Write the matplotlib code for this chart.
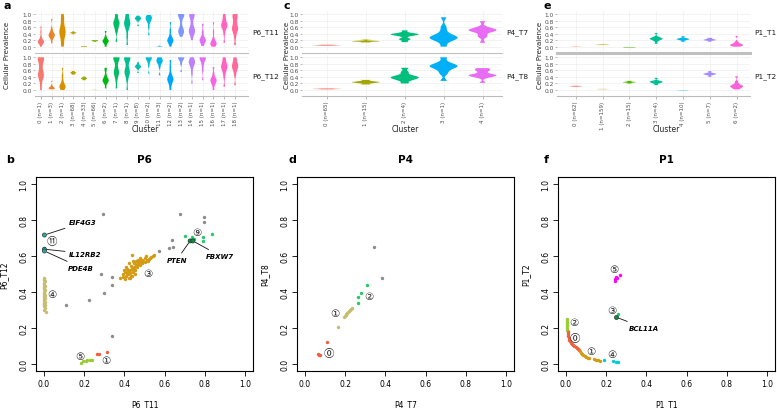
import matplotlib
matplotlib.use("Agg")
import matplotlib.pyplot as plt
from matplotlib.lines import Line2D
import numpy as np

W, H = 777, 410

# ---------------- violin data (cellular prevalence samples per cluster) ----------------
a_labels = ["0 (n=1)", "1 (n=3)", "2 (n=1)", "3 (n=68)", "4 (n=33)", "5 (n=66)", "6 (n=2)",
            "7 (n=1)", "8 (n=1)", "9 (n=8)", "10 (n=2)", "11 (n=3)", "12 (n=2)", "13 (n=2)",
            "14 (n=1)", "15 (n=1)", "16 (n=1)", "17 (n=1)", "18 (n=1)"]
a_T11 = [
    [0.0, 0.08, 0.12, 0.14, 0.15, 0.16, 0.18, 0.22, 0.3, 0.45, 0.62],
    [0.1, 0.25, 0.3, 0.33, 0.35, 0.37, 0.4, 0.45, 0.55, 0.85],
    [0.0, 0.1, 0.2, 0.3, 0.35, 0.4, 0.45, 0.5, 0.55, 0.6, 0.7, 0.8, 0.9, 1.0],
    [0.38, 0.41, 0.42, 0.43, 0.44, 0.47],
    [0.0, 0.005, 0.01, 0.015, 0.02],
    [0.15, 0.17, 0.18, 0.19, 0.2],
    [0.0, 0.1, 0.14, 0.17, 0.19, 0.22, 0.3, 0.48],
    [0.15, 0.45, 0.55, 0.62, 0.68, 0.72, 0.75, 0.8, 0.9, 1.0],
    [0.05, 0.3, 0.5, 0.6, 0.66, 0.7, 0.74, 0.78, 0.85, 0.95, 1.0],
    [0.63, 0.8, 0.84, 0.86, 0.88, 0.9, 0.95],
    [0.35, 0.6, 0.75, 0.8, 0.84, 0.87, 0.9, 0.93, 0.97],
    [0.0, 0.0, 0.005, 0.01, 0.05],
    [0.0, 0.1, 0.15, 0.18, 0.2, 0.22, 0.26, 0.35, 0.5, 0.75],
    [0.3, 0.4, 0.44, 0.47, 0.5, 0.55, 0.65, 0.8, 0.9, 0.95, 0.98, 1.0, 1.0],
    [0.2, 0.35, 0.42, 0.46, 0.5, 0.55, 0.62, 0.75, 0.88, 0.95, 1.0, 1.0],
    [0.02, 0.12, 0.17, 0.2, 0.23, 0.3, 0.45, 0.7],
    [0.0, 0.05, 0.08, 0.1, 0.12, 0.15, 0.25, 0.45, 0.75],
    [0.12, 0.4, 0.55, 0.6, 0.64, 0.68, 0.72, 0.8, 0.9, 1.0],
    [0.05, 0.3, 0.45, 0.52, 0.56, 0.6, 0.7, 0.8, 0.9, 0.97, 1.0],
]
a_T12 = [
    [0.0, 0.2, 0.35, 0.4, 0.45, 0.5, 0.55, 0.65, 0.75, 0.85, 0.92, 0.97, 1.0, 1.0],
    [0.02, 0.04, 0.05, 0.06, 0.07, 0.09, 0.14, 0.28],
    [0.0, 0.05, 0.08, 0.1, 0.12, 0.15, 0.2, 0.3, 0.45, 0.68],
    [0.47, 0.5, 0.52, 0.53, 0.55, 0.58],
    [0.3, 0.33, 0.35, 0.36, 0.38, 0.41],
    [0.0, 0.003, 0.006],
    [0.05, 0.2, 0.25, 0.28, 0.3, 0.33, 0.37, 0.45, 0.6, 0.68],
    [0.05, 0.3, 0.45, 0.5, 0.55, 0.6, 0.7, 0.85, 0.95, 0.98, 1.0, 1.0],
    [0.0, 0.3, 0.45, 0.52, 0.56, 0.6, 0.7, 0.85, 0.94, 0.98, 1.0, 1.0],
    [0.52, 0.65, 0.69, 0.71, 0.72, 0.74, 0.78, 0.85],
    [0.5, 0.75, 0.85, 0.9, 0.94, 0.97, 0.99, 1.0, 1.0],
    [0.45, 0.7, 0.8, 0.85, 0.87, 0.9, 0.93, 0.97, 1.0],
    [0.0, 0.15, 0.25, 0.3, 0.33, 0.36, 0.4, 0.5, 0.7, 0.92],
    [0.55, 0.8, 0.9, 0.95, 0.98, 1.0, 1.0],
    [0.2, 0.5, 0.65, 0.75, 0.8, 0.83, 0.86, 0.9, 0.95, 1.0],
    [0.3, 0.6, 0.75, 0.85, 0.92, 0.96, 0.99, 1.0, 1.0],
    [0.0, 0.15, 0.22, 0.27, 0.3, 0.33, 0.38, 0.5, 0.7],
    [0.1, 0.4, 0.55, 0.63, 0.68, 0.72, 0.76, 0.82, 0.92, 1.0],
    [0.15, 0.45, 0.58, 0.65, 0.7, 0.74, 0.78, 0.84, 0.93, 1.0],
]

c_labels = ["0 (n=65)", "1 (n=15)", "2 (n=4)", "3 (n=1)", "4 (n=1)"]
c_T7 = [
    [0.03, 0.04, 0.045, 0.05, 0.06],
    [0.13, 0.155, 0.165, 0.17, 0.18, 0.22],
    [0.14, 0.22, 0.24, 0.33, 0.36, 0.37, 0.38, 0.39, 0.41, 0.5],
    [0.0, 0.15, 0.22, 0.25, 0.27, 0.29, 0.31, 0.35, 0.45, 0.6, 0.9],
    [0.12, 0.3, 0.35, 0.45, 0.48, 0.5, 0.51, 0.52, 0.55, 0.6, 0.78],
]
c_T8 = [
    [0.02, 0.03, 0.035, 0.04, 0.05],
    [0.17, 0.21, 0.23, 0.24, 0.25, 0.27, 0.31],
    [0.2, 0.3, 0.34, 0.37, 0.39, 0.41, 0.45, 0.55, 0.68],
    [0.28, 0.5, 0.6, 0.67, 0.71, 0.73, 0.75, 0.78, 0.85, 1.0],
    [0.22, 0.38, 0.42, 0.44, 0.45, 0.46, 0.48, 0.55, 0.61, 0.63, 0.67],
]

e_labels = ["0 (n=62)", "1 (n=159)", "2 (n=15)", "3 (n=4)", "4 (n=10)", "5 (n=7)", "6 (n=2)"]
e_T1 = [
    [0.005, 0.01, 0.012, 0.015],
    [0.05, 0.06, 0.065, 0.07],
    [-0.025, -0.02, -0.015, -0.01],
    [0.09, 0.17, 0.21, 0.23, 0.24, 0.25, 0.27, 0.3, 0.42],
    [0.15, 0.2, 0.22, 0.23, 0.24, 0.26, 0.32],
    [0.15, 0.19, 0.2, 0.21, 0.22, 0.24, 0.27],
    [0.0, 0.02, 0.04, 0.05, 0.06, 0.07, 0.1, 0.15, 0.33],
]
e_T2 = [
    [0.1, 0.11, 0.115, 0.12, 0.13],
    [0.025, 0.03, 0.035],
    [0.2, 0.23, 0.24, 0.25, 0.28],
    [0.15, 0.21, 0.23, 0.25, 0.26, 0.28, 0.37],
    [-0.01, -0.005, 0.0],
    [0.4, 0.46, 0.48, 0.49, 0.5, 0.52, 0.58],
    [0.02, 0.06, 0.09, 0.11, 0.12, 0.14, 0.17, 0.25, 0.42],
]

# ---------------- scatter data ----------------
# P6
b_grey_x = [0.295, 0.677, 0.796, 0.796, 0.638, 0.62, 0.64, 0.573, 0.284, 0.34, 0.336, 0.30, 0.224, 0.108, 0.34]
b_grey_y = [0.834, 0.836, 0.815, 0.787, 0.69, 0.647, 0.649, 0.628, 0.50, 0.486, 0.438, 0.395, 0.354, 0.326, 0.155]
b_c1_x = [0.262, 0.274, 0.312]
b_c1_y = [0.052, 0.057, 0.067]
b_c5_x = [0.184, 0.195, 0.207, 0.216, 0.228, 0.237]
b_c5_y = [0.004, 0.013, 0.015, 0.024, 0.022, 0.019]
b_c4_x = [0.0, 0.002, 0.0, 0.003, 0.0, 0.001, 0.004, 0.0, 0.002, 0.0, 0.003, 0.001, 0.0, 0.002, 0.004,
          0.0, 0.001, 0.003, 0.0, 0.002, 0.0, 0.004, 0.001, 0.0, 0.003, 0.002, 0.0, 0.005, 0.001, 0.01]
b_c4_y = [0.48, 0.47, 0.465, 0.46, 0.45, 0.44, 0.435, 0.43, 0.42, 0.415, 0.41, 0.40, 0.395, 0.39, 0.385,
          0.38, 0.37, 0.365, 0.36, 0.355, 0.35, 0.345, 0.34, 0.335, 0.33, 0.325, 0.32, 0.31, 0.30, 0.289]
b_c3_x = [0.378, 0.395, 0.40, 0.405, 0.41, 0.415, 0.42, 0.42, 0.425, 0.43, 0.43, 0.435, 0.44, 0.44, 0.44,
          0.445, 0.45, 0.45, 0.455, 0.46, 0.46, 0.465, 0.47, 0.47, 0.475, 0.48, 0.48, 0.485, 0.49, 0.49,
          0.495, 0.50, 0.50, 0.505, 0.51, 0.515, 0.52, 0.525, 0.53, 0.54, 0.548, 0.405, 0.395, 0.41, 0.425,
          0.435, 0.455, 0.465, 0.445, 0.415, 0.43, 0.45]
b_c3_y = [0.476, 0.50, 0.52, 0.51, 0.49, 0.53, 0.50, 0.515, 0.48, 0.52, 0.505, 0.545, 0.49, 0.53, 0.605,
          0.51, 0.54, 0.56, 0.525, 0.55, 0.57, 0.54, 0.555, 0.58, 0.565, 0.55, 0.59, 0.57, 0.56, 0.58,
          0.575, 0.565, 0.59, 0.60, 0.58, 0.57, 0.585, 0.59, 0.595, 0.60, 0.605, 0.47, 0.485, 0.54, 0.56,
          0.49, 0.50, 0.565, 0.575, 0.505, 0.475, 0.53]
b_c9_x = [0.70, 0.735, 0.745, 0.793, 0.79, 0.836]
b_c9_y = [0.713, 0.705, 0.695, 0.705, 0.685, 0.72]
b_c11_x = [0.002]
b_c11_y = [0.647]
b_gene_names = ["EIF4G3", "IL12RB2", "PDE4B", "PTEN", "FBXW7"]
b_gene_x = [0.002, 0.002, 0.002, 0.727, 0.741]
b_gene_y = [0.717, 0.638, 0.628, 0.684, 0.684]
b_gene_col = ["#2aa5a8", "#2aa5a8", "#2aa5a8", "#128a45", "#128a45"]
b_gene_tx = [0.125, 0.125, 0.12, 0.66, 0.877]
b_gene_ty = [0.787, 0.614, 0.535, 0.578, 0.60]
b_gene_ha = ["left", "left", "left", "center", "center"]
b_tag_text = ["\u2460", "\u2462", "\u2463", "\u2464", "\u2468", "\u246a"]
b_tag_x = [0.308, 0.519, 0.038, 0.179, 0.759, 0.038]
b_tag_y = [0.019, 0.507, 0.386, 0.043, 0.735, 0.684]

# P4
d_grey_x = [0.343, 0.384]
d_grey_y = [0.653, 0.476]
d_c0_x = [0.111, 0.064, 0.071, 0.074]
d_c0_y = [0.119, 0.054, 0.05, 0.047]
d_c1_x = [0.164, 0.194, 0.198, 0.202, 0.206, 0.21, 0.214, 0.218, 0.222, 0.228, 0.233]
d_c1_y = [0.203, 0.26, 0.266, 0.272, 0.278, 0.284, 0.289, 0.294, 0.30, 0.306, 0.312]
d_c2_x = [0.306, 0.277, 0.265, 0.264]
d_c2_y = [0.438, 0.397, 0.371, 0.339]
d_tag_text = ["\u24ea", "\u2460", "\u2461"]
d_tag_x = [0.119, 0.147, 0.318]
d_tag_y = [0.058, 0.283, 0.378]

# P1
f_c0_x = [0.008, 0.01, 0.012, 0.014, 0.016, 0.02, 0.025, 0.03, 0.036, 0.042, 0.048, 0.054, 0.06, 0.066]
f_c0_y = [0.175, 0.165, 0.155, 0.145, 0.135, 0.125, 0.118, 0.112, 0.105, 0.098, 0.092, 0.086, 0.08, 0.075]
f_c1_x = [0.07, 0.075, 0.08, 0.086, 0.092, 0.1, 0.108, 0.115, 0.14, 0.15, 0.16, 0.17]
f_c1_y = [0.07, 0.062, 0.055, 0.048, 0.042, 0.036, 0.033, 0.03, 0.025, 0.022, 0.02, 0.018]
f_c2_x = [0.003, 0.004, 0.004, 0.005, 0.005, 0.006, 0.006, 0.007, 0.008]
f_c2_y = [0.25, 0.242, 0.235, 0.226, 0.218, 0.208, 0.198, 0.19, 0.182]
f_c3_x = [0.257]
f_c3_y = [0.28]
f_c4_x = [0.191, 0.232, 0.248, 0.257]
f_c4_y = [0.022, 0.013, 0.009, 0.009]
f_c5_x = [0.271, 0.249, 0.246, 0.244, 0.252]
f_c5_y = [0.494, 0.485, 0.472, 0.461, 0.48]
f_gene_names = ["BCL11A"]
f_gene_x = [0.249]
f_gene_y = [0.26]
f_gene_tx = [0.386]
f_gene_ty = [0.201]
f_tag_text = ["\u24ea", "\u2460", "\u2461", "\u2462", "\u2463", "\u2464"]
f_tag_x = [0.046, 0.124, 0.041, 0.227, 0.227, 0.238]
f_tag_y = [0.146, 0.071, 0.233, 0.30, 0.054, 0.526]


def hue_pal(n):
    # ggplot2 default hcl palette (h 15..375, c 100, l 65)
    cols = []
    L, C = 65.0, 100.0
    Xn, Yn, Zn = 95.047, 100.0, 108.883
    un = 4 * Xn / (Xn + 15 * Yn + 3 * Zn)
    vn = 9 * Yn / (Xn + 15 * Yn + 3 * Zn)
    for h in np.linspace(15, 375, n + 1)[:-1]:
        hr = np.deg2rad(h)
        u, v = C * np.cos(hr), C * np.sin(hr)
        Y = Yn * ((L + 16) / 116) ** 3
        up = u / (13 * L) + un
        vp = v / (13 * L) + vn
        X = Y * 9 * up / (4 * vp)
        Z = Y * (12 - 3 * up - 20 * vp) / (4 * vp)
        X, Y, Z = X / 100, Y / 100, Z / 100
        rgb = np.array([3.240479 * X - 1.537150 * Y - 0.498535 * Z,
                        -0.969256 * X + 1.875992 * Y + 0.041556 * Z,
                        0.055648 * X - 0.204043 * Y + 1.057311 * Z])
        rgb = np.where(rgb <= 0.0031308, 12.92 * rgb, 1.055 * np.abs(rgb) ** (1 / 2.4) - 0.055)
        cols.append(tuple(np.clip(rgb, 0, 1)))
    return cols


fig = plt.figure(figsize=(W / 100, H / 100), dpi=100)


def px_axes(x0, y0, x1, y1):
    return fig.add_axes([x0 / W, 1 - y1 / H, (x1 - x0) / W, (y1 - y0) / H])


def ftext(x, y, s, **kw):
    fig.text(x / W, 1 - y / H, s, **kw)


TXT = "#4d4d4d"


def violin_panel(x0, x1, xlim, top, bot, labels, names, width, sep_lw, letter, lx, ylab_x, clus_x):
    cols = hue_pal(len(labels))
    n = len(labels)
    axes = [px_axes(x0, 12.4, x1, 51.6), px_axes(x0, 55.7, x1, 96.6)]
    ylims = [(-0.12, 1.08), (-0.17, 1.08)]
    for k, (ax, data) in enumerate(zip(axes, [top, bot])):
        for i in range(n):
            ax.axvline(i, color="#ebebeb", lw=0.4, zorder=0)
        for yv in np.arange(0, 1.01, 0.2):
            ax.axhline(yv, color="#ebebeb", lw=0.4, zorder=0)
        parts = ax.violinplot(data, positions=range(n), widths=width, showextrema=False, bw_method=0.3,
                              points=200)
        for body, c in zip(parts["bodies"], cols):
            body.set_facecolor(c)
            body.set_edgecolor("none")
            body.set_alpha(1)
        ax.set_xlim(*xlim)
        ax.set_ylim(*ylims[k])
        ax.set_yticks(np.arange(0, 1.01, 0.2))
        ax.set_yticklabels(["0.0", "0.2", "0.4", "0.6", "0.8", "1.0"], fontsize=4.2, color=TXT)
        ax.tick_params(axis="y", length=1.5, width=0.4, color="#888888", pad=1)
        for s in ax.spines.values():
            s.set_visible(False)
        ax.set_facecolor("none")
        if k == 0:
            ax.set_xticks([])
        else:
            ax.set_xticks(range(n))
            ax.set_xticklabels(labels, rotation=90, fontsize=4, color=TXT, va="top")
            ax.tick_params(axis="x", length=2, width=0.4, color="#888888", pad=1.5)
            ax.spines["bottom"].set_visible(True)
            ax.spines["bottom"].set_color("#bbbbbb")
            ax.spines["bottom"].set_linewidth(0.8)
    fig.add_artist(Line2D([x0 / W, x1 / W], [1 - 53.6 / H] * 2, color="#c0c0c0", lw=sep_lw))
    ftext(x1 + 4, 33, names[0], fontsize=5.3, color="#1a1a1a", va="center")
    ftext(x1 + 4, 77, names[1], fontsize=5.3, color="#1a1a1a", va="center")
    ftext(ylab_x, 55, "Cellular Prevalence", fontsize=5, color="#222222", rotation=90, ha="center", va="center")
    ftext(clus_x, 130, "Cluster", fontsize=5.5, color="#222222", ha="center", va="center")
    ftext(lx, 1, letter, fontsize=8, fontweight="bold", va="top")


violin_panel(35, 248, (-0.55, 19.2), a_T11, a_T12, a_labels, ["P6_T11", "P6_T12"], 0.58, 0.8, "a", 3, 7.3, 145)
violin_panel(302, 502, (-0.64, 4.5), c_T7, c_T8, c_labels, ["P4_T7", "P4_T8"], 0.72, 0.8, "c", 284, 287, 405)
violin_panel(557, 750, (-0.7, 6.5), e_T1, e_T2, e_labels, ["P1_T1", "P1_T2"], 0.48, 2.2, "e", 544, 540, 666)

TAGFONT = ["DejaVu Sans", "Noto Sans CJK JP"]


def scatter_panel(x0, x1, title, letter, lx, xl, yl):
    ax = px_axes(x0, 178, x1, 372)
    ax.set_xlim(-0.04, 1.04)
    ax.set_ylim(-0.04, 1.04)
    ticks = np.arange(0, 1.01, 0.2)
    ax.set_xticks(ticks)
    ax.set_yticks(ticks)
    tl = ["0.0", "0.2", "0.4", "0.6", "0.8", "1.0"]
    ax.set_xticklabels(tl, fontsize=5.5)
    ax.set_yticklabels(tl, fontsize=5.5, rotation=90, va="center")
    ax.tick_params(length=3.5, width=0.6, pad=2)
    for s in ax.spines.values():
        s.set_linewidth(0.8)
    ftext((x0 + x1) / 2, 160, title, fontsize=7.5, fontweight="bold", ha="center", va="center")
    ftext(lx, 160, letter, fontsize=8, fontweight="bold", ha="center", va="center")
    ftext((x0 + x1) / 2, 405, xl, fontsize=5.5, ha="center", va="center")
    ftext(x0 - 32, 275, yl, fontsize=5.5, rotation=90, ha="center", va="center")
    return ax


def tags(ax, txt, xs, ys):
    for t, x, y in zip(txt, xs, ys):
        ax.text(x, y, t, fontsize=7.5, family=TAGFONT, ha="center", va="center", color="#222222")


S = 6
GREY = "#8c8c8c"

ax = scatter_panel(36, 253, "P6", "b", 10, "P6_T11", "P6_T12")
ax.scatter(b_grey_x, b_grey_y, s=S, color=GREY, lw=0)
ax.scatter(b_c1_x, b_c1_y, s=S, color="#f0603c", lw=0)
ax.scatter(b_c5_x, b_c5_y, s=S, color="#9acd32", lw=0)
ax.scatter(b_c4_x, b_c4_y, s=S, color="#c8bc6e", lw=0)
ax.scatter(b_c3_x, b_c3_y, s=S, color="#d49a12", lw=0)
ax.scatter(b_c9_x, b_c9_y, s=S, color="#22cc66", lw=0)
ax.scatter(b_c11_x, b_c11_y, s=S, color="#2aa5a8", lw=0)
ax.scatter(b_gene_x, b_gene_y, s=9, color=b_gene_col, edgecolors="#222222", lw=0.4, zorder=3)
for g, x, y, tx, ty, ha in zip(b_gene_names, b_gene_x, b_gene_y, b_gene_tx, b_gene_ty, b_gene_ha):
    ax.annotate(g, xy=(x, y), xytext=(tx, ty), fontsize=5, fontstyle="italic", fontweight="bold",
                ha=ha, va="center", arrowprops=dict(arrowstyle="-", color="#111111", lw=0.6, shrinkA=1, shrinkB=2))
tags(ax, b_tag_text, b_tag_x, b_tag_y)

ax = scatter_panel(297, 514, "P4", "d", 292, "P4_T7", "P4_T8")
ax.scatter(d_grey_x, d_grey_y, s=S, color=GREY, lw=0)
ax.scatter(d_c0_x, d_c0_y, s=S, color="#f0603c", lw=0)
ax.scatter(d_c1_x, d_c1_y, s=S, color="#c8bc6e", lw=0)
ax.scatter(d_c2_x, d_c2_y, s=S, color="#22cc66", lw=0)
tags(ax, d_tag_text, d_tag_x, d_tag_y)

ax = scatter_panel(558, 775, "P1", "f", 546, "P1_T1", "P1_T2")
ax.scatter(f_c2_x, f_c2_y, s=S, color="#9acd32", lw=0)
ax.scatter(f_c0_x, f_c0_y, s=S, color="#f0603c", lw=0)
ax.scatter(f_c1_x, f_c1_y, s=S, color="#d49a12", lw=0)
ax.scatter(f_c3_x, f_c3_y, s=S, color="#22cc66", lw=0)
ax.scatter(f_c4_x, f_c4_y, s=S, color="#00ced1", lw=0)
ax.scatter(f_c5_x, f_c5_y, s=S, color="#ff00ff", lw=0)
ax.scatter(f_gene_x, f_gene_y, s=9, color="#128a45", edgecolors="#222222", lw=0.4, zorder=3)
for g, x, y, tx, ty in zip(f_gene_names, f_gene_x, f_gene_y, f_gene_tx, f_gene_ty):
    ax.annotate(g, xy=(x, y), xytext=(tx, ty), fontsize=5, fontstyle="italic", fontweight="bold",
                ha="center", va="center", arrowprops=dict(arrowstyle="-", color="#111111", lw=0.6, shrinkA=1, shrinkB=2))
tags(ax, f_tag_text, f_tag_x, f_tag_y)

fig.savefig("out.png", dpi=100)
